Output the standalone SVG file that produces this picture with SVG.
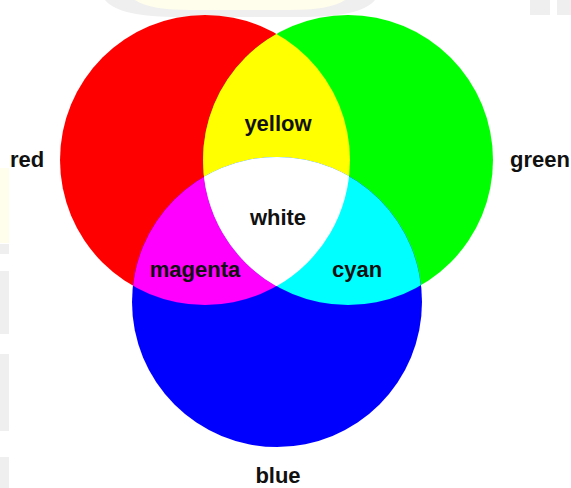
<svg xmlns="http://www.w3.org/2000/svg" width="571" height="488" viewBox="0 0 571 488">
  <style>
    .lbl { font-family: "Liberation Sans", Arial, sans-serif; font-weight: bold; font-size: 22px; fill: #111; }
    .mid { text-anchor: middle; }
    .wm1 { fill: #efefef; }
    .wm2 { fill: #fffdec; }
  </style>
  <defs>
    <circle id="cR" cx="205" cy="160" r="145"/>
    <circle id="cG" cx="348" cy="160" r="145"/>
    <circle id="cB" cx="277" cy="302" r="145"/>
    <clipPath id="clipR"><use href="#cR"/></clipPath>
    <clipPath id="clipG"><use href="#cG"/></clipPath>
    <clipPath id="clipRG" clip-path="url(#clipR)"><use href="#cG"/></clipPath>
  </defs>
  <rect width="571" height="488" fill="#ffffff"/>
  <g id="watermark">
    <path class="wm1" d="M105 0 H375 C365 12 340 17 300 17 H180 C140 17 115 12 105 0 Z"/>
    <path class="wm2" d="M135 0 H345 C335 7 315 10 290 10 H190 C165 10 145 7 135 0 Z"/>
    <rect class="wm1" x="530" y="0" width="20" height="15"/>
    <rect class="wm1" x="557" y="0" width="14" height="15"/>
    <rect class="wm2" x="0" y="168" width="9" height="75"/>
    <rect class="wm1" x="0" y="244" width="9" height="10"/>
    <rect class="wm1" x="0" y="271" width="9" height="63"/>
    <rect class="wm1" x="0" y="354" width="9" height="77"/>
    <rect class="wm1" x="0" y="457" width="9" height="31"/>
  </g>
  <g id="red"><use href="#cR" fill="#ff0000"/></g>
  <g id="green"><use href="#cG" fill="#00ff00"/></g>
  <g id="blue"><use href="#cB" fill="#0000ff"/></g>
  <g id="yellow"><use href="#cG" fill="#ffff00" clip-path="url(#clipR)"/></g>
  <g id="magenta"><use href="#cB" fill="#ff00ff" clip-path="url(#clipR)"/></g>
  <g id="cyan"><use href="#cB" fill="#00ffff" clip-path="url(#clipG)"/></g>
  <g id="white"><use href="#cB" fill="#ffffff" clip-path="url(#clipRG)"/></g>
  <g id="labels">
    <text class="lbl" x="10" y="167">red</text>
    <text class="lbl" x="510" y="167">green</text>
    <text class="lbl mid" x="278" y="483">blue</text>
    <text class="lbl mid" x="278" y="131">yellow</text>
    <text class="lbl mid" x="278" y="225">white</text>
    <text class="lbl mid" x="195" y="277">magenta</text>
    <text class="lbl mid" x="357" y="277">cyan</text>
  </g>
</svg>
